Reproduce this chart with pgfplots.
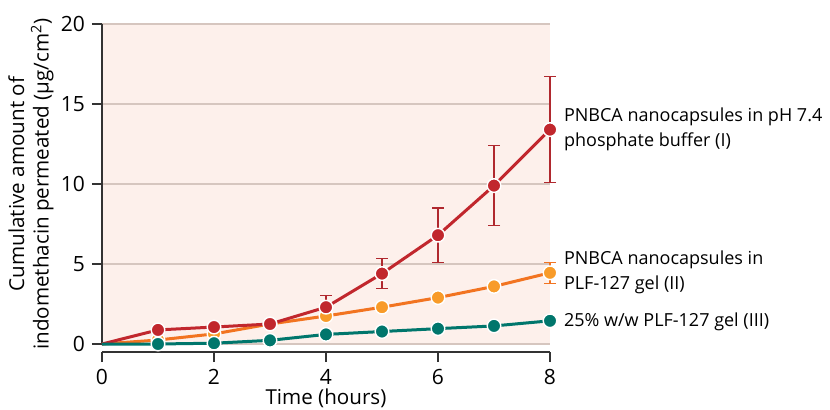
\documentclass[border=0pt]{standalone}
\usepackage{pgfplots}
\pgfplotsset{compat=1.18}
\usepackage{fontspec}
\setmainfont{Open Sans}

\definecolor{redI}{HTML}{C1272D}
\definecolor{errI}{HTML}{B0282E}
\definecolor{orgline}{HTML}{F27421}
\definecolor{orgmark}{HTML}{F89B29}
\definecolor{tealIII}{HTML}{00766C}
\definecolor{bgpink}{HTML}{FDF0EB}
\definecolor{gridc}{HTML}{D6C6BF}

\begin{document}
\begin{tikzpicture}
\begin{axis}[
    scale only axis,
    width=224pt, height=160pt,
    xmin=0, xmax=8, ymin=0, ymax=20,
    xtick={0,2,4,6,8},
    ytick={0,5,10,15,20},
    axis x line*=bottom,
    axis y line*=left,
    axis x line shift=4pt,
    axis line style={line width=0.8pt, color=black!80},
    tick align=outside,
    major tick length=5pt,
    tick style={line width=0.8pt, color=black!80},
    ymajorgrids=true,
    grid style={gridc, line width=0.6pt},
    axis background/.style={fill=bgpink},
    tick label style={font=\fontsize{10.5}{12}\selectfont},
    /pgf/number format/assume math mode=true,
    xlabel={Time (hours)},
    ylabel={Cumulative amount of\\indomethacin permeated (µg/cm\textsuperscript{2})},
    label style={font=\fontsize{10.3}{12.3}\selectfont},
    xlabel style={at={(axis description cs:0.5,-0.169)}, anchor=center},
    ylabel style={at={(axis description cs:-0.1585,0.5)}, anchor=center, align=center},
    clip=false,
]

% PNBCA nanocapsules in PLF-127 gel (II)
\addplot[color=orgline, line width=1.5pt,
    mark=*, mark size=3.4pt, mark indices={2,3,4,5,6,7,8,9},
    mark options={fill=orgmark, draw=white, line width=0.7pt},
    error bars/.cd, y dir=both, y explicit,
    error bar style={color=orgline, line width=0.6pt},
    error mark options={rotate=90, mark size=3pt, line width=0.6pt, color=orgline}]
coordinates {
(0,0) (1,0.25) (2,0.63) (3,1.25) (4,1.75) (5,2.3) (6,2.9) (7,3.6) (8,4.45) +- (0,0.65)
};

% PNBCA nanocapsules in pH 7.4 phosphate buffer (I)
\addplot[color=redI, line width=1.5pt,
    mark=*, mark size=3.4pt, mark indices={2,3,4,5,6,7,8,9},
    mark options={fill=redI, draw=white, line width=0.7pt},
    error bars/.cd, y dir=both, y explicit,
    error bar style={color=errI, line width=0.6pt},
    error mark options={rotate=90, mark size=3pt, line width=0.6pt, color=errI}]
coordinates {
(0,0) (1,0.88) (2,1.06) (3,1.25)
(4,2.3) +- (0,0.72)
(5,4.4) +- (0,0.95)
(6,6.8) +- (0,1.7)
(7,9.9) +- (0,2.5)
(8,13.4) +- (0,3.3)
};

% 25% w/w PLF-127 gel (III)
\addplot[color=tealIII, line width=1.5pt,
    mark=*, mark size=3.4pt, mark indices={2,3,4,5,6,7,8,9},
    mark options={fill=tealIII, draw=white, line width=0.7pt}]
coordinates {
(0,0) (1,0) (2,0.05) (3,0.23) (4,0.6) (5,0.78) (6,0.96) (7,1.13) (8,1.45)
};

\node[anchor=west, align=left, font=\fontsize{9}{12.5}\selectfont, xshift=3.5pt]
    at (axis cs:8,13.4) {PNBCA nanocapsules in pH 7.4\\phosphate buffer (I)};
\node[anchor=west, align=left, font=\fontsize{9}{12.5}\selectfont, xshift=3.5pt]
    at (axis cs:8,4.5) {PNBCA nanocapsules in\\PLF-127 gel (II)};
\node[anchor=west, align=left, font=\fontsize{9}{12.5}\selectfont, xshift=3.5pt]
    at (axis cs:8,1.4) {25\% w/w PLF-127 gel (III)};

\coordinate (O) at (axis cs:0,0);
\end{axis}
\pgfresetboundingbox
\path[use as bounding box] ([shift={(-51pt,-32.5pt)}]O) rectangle ([shift={(364pt,172pt)}]O);
\end{tikzpicture}
\end{document}
